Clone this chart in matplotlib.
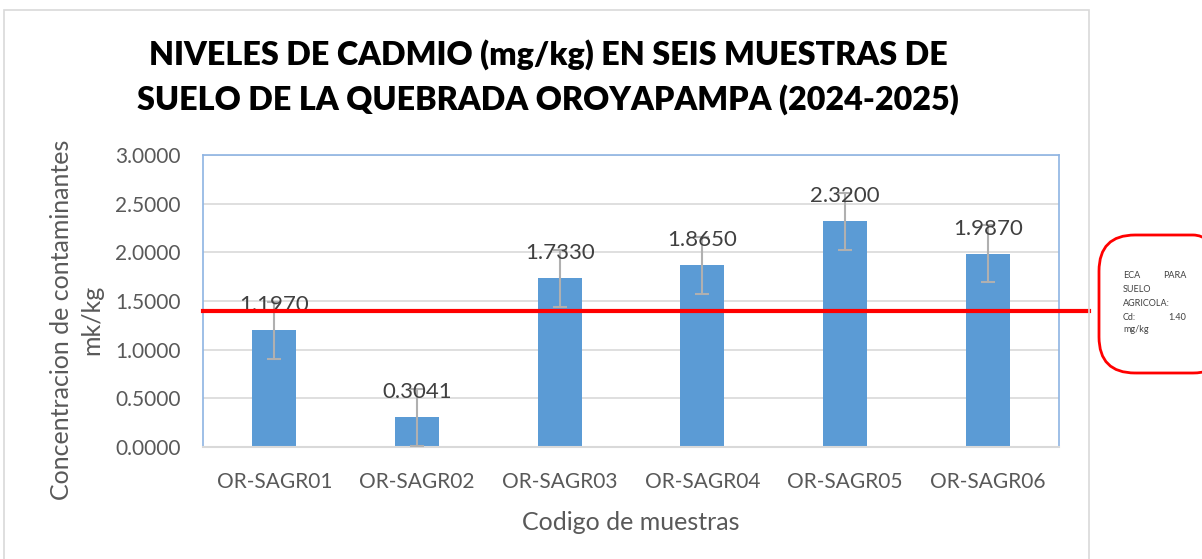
import matplotlib.pyplot as plt
from matplotlib.patches import FancyBboxPatch, Rectangle
import numpy as np

plt.rcParams['font.family'] = ['Lato', 'DejaVu Sans']

muestras = ['OR-SAGR01', 'OR-SAGR02', 'OR-SAGR03', 'OR-SAGR04', 'OR-SAGR05', 'OR-SAGR06']
cadmio = [1.1970, 0.3041, 1.7330, 1.8650, 2.3200, 1.9870]
error = [0.293, 0.293, 0.293, 0.293, 0.293, 0.293]
eca_cd = 1.40
yticks = [0.0, 0.5, 1.0, 1.5, 2.0, 2.5, 3.0]

W, H = 1202, 559
fig = plt.figure(figsize=(W / 100, H / 100), dpi=100)
ax = fig.add_axes([203 / W, 1 - 447 / H, (1059 - 203) / W, (447 - 155) / H])

# marco del grafico
fig.patches.append(Rectangle((4 / W, -0.1), (1089 - 4) / W, 1 - 10 / H + 0.1,
                             transform=fig.transFigure, fill=False,
                             edgecolor='#D9D9D9', lw=1.2))

x = np.arange(len(muestras))
ax.bar(x, cadmio, width=0.31, color='#5B9BD5', zorder=2)
ax.errorbar(x, cadmio, yerr=error, fmt='none', ecolor='#B0B0B0',
            elinewidth=1.5, capsize=5, capthick=1.5, zorder=3)
for xi, v in zip(x, cadmio):
    ax.annotate(f'{v:.4f}', (xi, v), xytext=(0, 18), textcoords='offset points',
                ha='center', va='center', fontsize=16, color='#404040', zorder=4)

ax.set_xlim(-0.5, len(muestras) - 0.5)
ax.set_ylim(0, 3.0)
ax.set_yticks(yticks)
ax.set_yticklabels([f'{t:.4f}' for t in yticks])
ax.set_xticks(x)
ax.set_xticklabels(muestras)
ax.tick_params(length=0, labelsize=15, labelcolor='#595959')
ax.tick_params(axis='y', pad=16)
ax.tick_params(axis='x', pad=18)
ax.grid(axis='y', color='#D9D9D9', lw=1.2, zorder=0)
ax.set_axisbelow(True)
for s in ['left', 'top', 'right']:
    ax.spines[s].set_color('#8EB4E3')
    ax.spines[s].set_linewidth(1.2)
ax.spines['bottom'].set_color('#D9D9D9')
ax.spines['bottom'].set_linewidth(1.5)

# linea ECA
ax.axhline(eca_cd, xmin=0, xmax=(1089 - 203) / (1059 - 203), color='red',
           lw=3, clip_on=False, zorder=5)

ax.set_xlabel('Codigo de muestras', fontsize=18, color='#595959', labelpad=14)
fig.text(62 / W, 1 - 320 / H, 'Concentracion de contaminantes', rotation=90,
         ha='center', va='center', fontsize=18, color='#595959')
fig.text(92 / W, 1 - 320 / H, 'mk/kg', rotation=90,
         ha='center', va='center', fontsize=18, color='#595959')

fig.text(548 / W, 1 - 55 / H, 'NIVELES DE CADMIO (mg/kg) EN SEIS MUESTRAS DE',
         ha='center', va='center', fontsize=23.2, fontweight='heavy', color='black')
fig.text(548 / W, 1 - 100 / H, 'SUELO DE LA QUEBRADA OROYAPAMPA (2024-2025)',
         ha='center', va='center', fontsize=23.2, fontweight='heavy', color='black')

# cuadro ECA
fig.patches.append(FancyBboxPatch((1099 / W, 1 - 373 / H), 130 / W, 138 / H,
                                  boxstyle='round,pad=0,rounding_size=0.03',
                                  transform=fig.transFigure, fill=False,
                                  edgecolor='red', lw=2, mutation_aspect=W / H))
fs = 6.5
c = '#404040'
fig.text(1123 / W, 1 - 276 / H, 'ECA', fontsize=fs, color=c, va='center')
fig.text(1186 / W, 1 - 276 / H, 'PARA', fontsize=fs, color=c, va='center', ha='right')
fig.text(1123 / W, 1 - 290 / H, 'SUELO', fontsize=fs, color=c, va='center')
fig.text(1123 / W, 1 - 303 / H, 'AGRICOLA:', fontsize=fs, color=c, va='center')
fig.text(1123 / W, 1 - 317 / H, 'Cd:', fontsize=fs, color=c, va='center')
fig.text(1186 / W, 1 - 317 / H, '1.40', fontsize=fs, color=c, va='center', ha='right')
fig.text(1123 / W, 1 - 330 / H, 'mg/kg', fontsize=fs, color=c, va='center')

fig.savefig('out.png', dpi=100)
